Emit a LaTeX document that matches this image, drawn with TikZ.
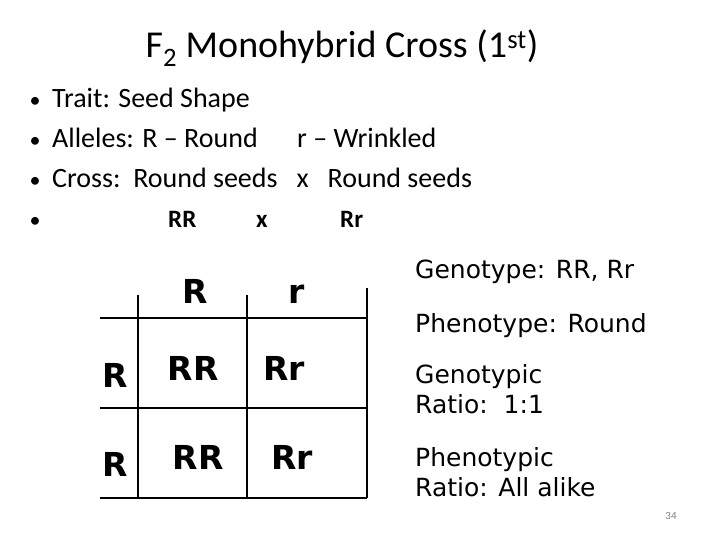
\documentclass[tikz,border=0pt]{standalone}
\usepackage{fontspec}
\setmainfont{Carlito}
\newfontfamily\dv{DejaVu Sans}
\begin{document}
\begin{tikzpicture}[x=1pt,y=-1pt,
  txt/.style={anchor=base west,inner sep=0pt,font=\fontsize{28}{32}\selectfont},
  pun/.style={anchor=base,inner sep=0pt,font=\dv\bfseries\fontsize{33}{36}\selectfont},
  rt/.style={anchor=base west,inner sep=0pt,align=left,font=\dv\fontsize{25}{30}\selectfont},
  grid/.style={line width=1.2pt}]
\useasboundingbox (0,0) rectangle (720,540);
\node[anchor=base,inner sep=0pt,font=\fontsize{38}{42}\selectfont] (title) at (342,58) {F\textsubscript{2} Monohybrid Cross (1\textsuperscript{st})};
\foreach \y/\n in {108/b1,148/b2,188/b3,228/b4}
  \node[anchor=base,inner sep=0pt,font=\fontsize{22}{28}\selectfont] (\n) at (35,\y) {•};
\node[txt] (t1) at (52,108) {Trait: Seed Shape};
\node[txt] (t2) at (52,148) {Alleles: R – Round};
\node[txt] (t2b) at (297,148) {r – Wrinkled};
\node[txt] (t3) at (52,188) {Cross:\ \ Round seeds\ \ \ x\ \ \ Round seeds};
\node[txt,font=\bfseries\fontsize{25}{28}\selectfont] (t4a) at (168,228) {RR};
\node[txt,font=\bfseries\fontsize{25}{28}\selectfont] (t4b) at (256,228) {x};
\node[txt,font=\bfseries\fontsize{25}{28}\selectfont] (t4c) at (340,228) {Rr};
% grid
\coordinate (h1a) at (100,318); \coordinate (h1b) at (367,318);
\coordinate (h2a) at (100,408); \coordinate (h2b) at (367,408);
\coordinate (h3a) at (100,498); \coordinate (h3b) at (367,498);
\coordinate (v1a) at (138,295); \coordinate (v1b) at (138,498);
\coordinate (v2a) at (247,295); \coordinate (v2b) at (247,498);
\coordinate (v3a) at (367,288); \coordinate (v3b) at (367,498);
\draw[grid] (h1a)--(h1b) (h2a)--(h2b) (h3a)--(h3b) (v1a)--(v1b) (v2a)--(v2b) (v3a)--(v3b);
\node[pun] (cR) at (195,303) {R};
\node[pun] (cr) at (297,303) {r};
\node[pun] (r1) at (115,387) {R};
\node[pun] (r2) at (115,476) {R};
\node[pun] (a1) at (193,380) {RR};
\node[pun] (a2) at (284,380) {Rr};
\node[pun] (a3) at (198,469) {RR};
\node[pun] (a4) at (292,469) {Rr};
\node[rt] (g1) at (415,278) {Genotype: RR, Rr};
\node[rt] (g2) at (415,332) {Phenotype: Round};
\node[rt] (g3) at (415,413) {Genotypic\\Ratio:\ \ 1:1};
\node[rt] (g4) at (415,496) {Phenotypic\\Ratio: All alike};
\node[anchor=base,inner sep=0pt,text=gray,font=\fontsize{11}{12}\selectfont] (pg) at (671,519) {34};
\end{tikzpicture}
\end{document}
